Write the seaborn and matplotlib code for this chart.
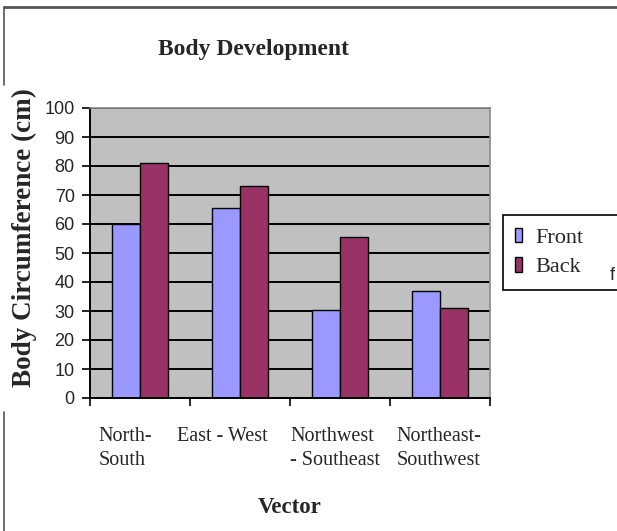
import matplotlib
matplotlib.use("Agg")
import matplotlib.pyplot as plt
from matplotlib.lines import Line2D
from matplotlib.transforms import ScaledTranslation
import pandas as pd
import seaborn as sns

# Chart data
vectors = ["North-\nSouth", "East - West", "Northwest\n- Southeast", "Northeast-\nSouthwest"]
front = [60, 65.5, 30.5, 37]
back = [81, 73, 55.5, 31]
series = ["Front", "Back"]
y_ticks = list(range(0, 101, 10))

df = pd.DataFrame({
    "Vector": vectors * 2,
    "Series": [series[0]] * len(vectors) + [series[1]] * len(vectors),
    "cm": front + back,
})

sns.set_style("white")
plt.rcParams["font.family"] = ["Liberation Serif", "DejaVu Serif"]

W, H = 617, 531
fig = plt.figure(figsize=(W / 100, H / 100), dpi=100)
fig.patch.set_facecolor("white")

ax = fig.add_axes([90 / W, 1 - 398 / H, 400 / W, 290 / H])
ax.set_facecolor("#C0C0C0")
sns.barplot(data=df, x="Vector", y="cm", hue="Series", hue_order=series, order=vectors,
            palette=["#9999FF", "#993366"], width=0.567, edgecolor="black", linewidth=1,
            saturation=1, errorbar=None, ax=ax)

# axis ranges, grid and frame
ax.set_ylim(0, 100)
ax.set_xlim(-0.5, len(vectors) - 0.5)
ax.set_yticks(y_ticks)
ax.yaxis.grid(True, color="black", linewidth=1.4)
ax.xaxis.grid(False)
ax.set_axisbelow(True)
for side in ("left", "bottom"):
    ax.spines[side].set_color("black")
    ax.spines[side].set_linewidth(1.4)
for side in ("top", "right"):
    ax.spines[side].set_color("#8a8a8a")
    ax.spines[side].set_linewidth(1.2)

ax.tick_params(axis="y", direction="out", length=6, width=1.2, color="black",
               pad=5, labelsize=13, labelfontfamily="Liberation Sans", left=True)
# tick marks between the categories, labels under the bar pairs
ax.set_xticks([i - 0.5 for i in range(len(vectors) + 1)], minor=True)
ax.tick_params(axis="x", which="minor", direction="out", length=6, width=1.2,
               color="black", bottom=True)
ax.set_xticks(range(len(vectors)))
ax.set_xticklabels(vectors, fontsize=14.5, multialignment="left", linespacing=1.35)
ax.tick_params(axis="x", which="major", length=0, pad=21)
label_shift = [-15, -18, -5, -1]
for lbl, dx in zip(ax.get_xticklabels(), label_shift):
    lbl.set_transform(lbl.get_transform() + ScaledTranslation(dx / 100, 0, fig.dpi_scale_trans))

ax.set_xlabel("Vector", fontsize=16.5, fontweight="bold")
ax.xaxis.set_label_coords(0.5, -0.34)
ax.set_ylabel("Body Circumference (cm)", fontsize=19.5, fontweight="bold")
ax.yaxis.set_label_coords(-0.132, 0.552)
ax.set_title("Body Development", fontsize=17, fontweight="bold", x=0.41, y=1.184, pad=0)

# legend on the right, running past the edge of the figure
handles, labels = ax.get_legend_handles_labels()
ax.get_legend().remove()
fig.legend(handles, labels, loc="center left", mode="expand",
           bbox_to_anchor=(503 / W, 1 - 292 / H, 150 / W, 79 / H), borderaxespad=0,
           fontsize=16, frameon=True, fancybox=False, framealpha=1, edgecolor="black",
           handlelength=0.32, handleheight=0.65, handletextpad=0.6, labelspacing=0.42,
           borderpad=0.55)
fig.legends[0].get_frame().set_linewidth(1.2)
fig.text(610 / W, 1 - 276 / H, "f", fontsize=13, family="Liberation Sans", va="center",
         zorder=10)

# outer border of the chart area
border = dict(color="#555555", transform=fig.transFigure)
fig.add_artist(Line2D([4 / W, 1], [1 - 7 / H, 1 - 7 / H], lw=2, **border))
fig.add_artist(Line2D([4 / W, 4 / W], [1 - 7 / H, 1 - 85 / H], lw=1.2, **border))
fig.add_artist(Line2D([4 / W, 4 / W], [1 - 412 / H, 0], lw=1.2, **border))

fig.savefig("out.png", dpi=100, facecolor="white")
